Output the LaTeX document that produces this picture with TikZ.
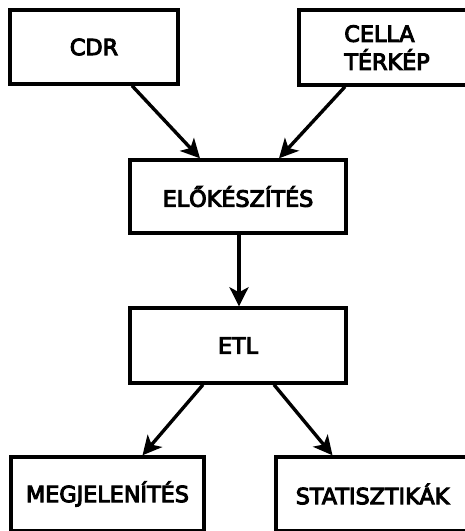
\documentclass[tikz,border=0pt]{standalone}
\usepackage{fontspec}
\setmainfont{DejaVu Sans}[FakeBold=4.5]
\usetikzlibrary{arrows.meta}
\begin{document}
\begin{tikzpicture}[x=1pt,y=-1pt,
  box/.style={draw, line width=3.4pt, inner sep=0pt, font=\fontsize{22.3}{28}\selectfont, anchor=center},
  conn/.style={line width=3.4pt, -{Stealth[length=19pt,width=19pt,inset=5pt]}}]
\useasboundingbox (0,0) rectangle (465,531);
\node[box, minimum width=168pt, minimum height=74pt] (cdr) at (94,47) {CDR};
\node[box, minimum width=176pt, minimum height=75pt, align=left] (cella) at (387,47.5) {CELLA\\TÉRKÉP};
\node[box, minimum width=216pt, minimum height=73pt] (prep) at (238,196.5) {ELŐKÉSZÍTÉS};
\node[box, minimum width=216pt, minimum height=75pt] (etl) at (238,345.5) {ETL};
\node[box, minimum width=193pt, minimum height=74pt] (meg) at (107.5,494) {MEGJELENÍTÉS};
\node[box, minimum width=193pt, minimum height=74pt] (stat) at (372.5,494) {STATISZTIKÁK};
\draw[conn] ([xshift=38pt]cdr.south) -- ([xshift=-38pt]prep.north);
\draw[conn] ([xshift=-42pt]cella.south) -- ([xshift=41pt]prep.north);
\draw[conn] ([xshift=1pt]prep.south) -- ([xshift=1pt]etl.north);
\draw[conn] ([xshift=-35pt]etl.south) -- ([xshift=35pt]meg.north);
\draw[conn] ([xshift=36pt]etl.south) -- ([xshift=-40pt]stat.north);
\end{tikzpicture}
\end{document}
